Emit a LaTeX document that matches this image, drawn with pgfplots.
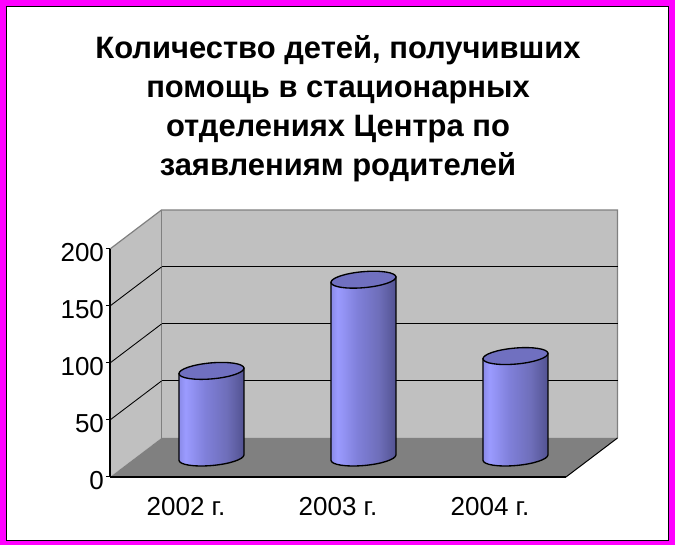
\documentclass[border=0pt]{standalone}
\usepackage{fontspec}
\setmainfont{Liberation Sans}
\usepackage{pgfplots}
\pgfplotsset{compat=1.18}
\definecolor{wall}{RGB}{192,192,192}
\definecolor{floorc}{RGB}{128,128,128}
\definecolor{topc}{RGB}{112,112,192}
\definecolor{frameM}{RGB}{255,0,255}
\definecolor{c0}{RGB}{138,138,232}
\definecolor{c1}{RGB}{155,155,255}
\definecolor{c2}{RGB}{128,128,218}
\definecolor{c3}{RGB}{110,110,185}
\definecolor{c4}{RGB}{82,82,145}
\pgfdeclarehorizontalshading{cylshade}{100bp}{color(0bp)=(c0); color(25bp)=(c0); color(30bp)=(c1); color(45bp)=(c2); color(62bp)=(c3); color(75bp)=(c4); color(100bp)=(c4)}
\pgfdeclareplotmark{cyl}{%
  \pgfmathsetmacro\cylh{\rawy*1.14*0.75}%
  \pgfsetlinewidth{1pt}\pgfsetstrokecolor{black}%
  \def\bodypath{%
    \pgfpathmoveto{\pgfpoint{-24.37pt}{-\cylh pt-2.0pt}}%
    \pgfpatharcaxes{178.8}{358.8}{\pgfpoint{24.36pt}{2.13pt}}{\pgfpoint{-0.52pt}{5.98pt}}%
    \pgfpathlineto{\pgfpoint{24.37pt}{2.0pt}}%
    \pgfpathlineto{\pgfpoint{-24.37pt}{-2.0pt}}%
    \pgfpathclose}%
  \begin{pgfscope}\bodypath\pgfshadepath{cylshade}{0}\pgfusepath{discard}\end{pgfscope}%
  \bodypath\pgfusepath{stroke}%
  \pgfsetfillcolor{topc}%
  \pgfpathellipse{\pgfpointorigin}{\pgfpoint{24.36pt}{2.13pt}}{\pgfpoint{-0.52pt}{5.98pt}}%
  \pgfusepath{fill,stroke}%
}
\pgfplotstableread{
x y
0.5 76
1.5 156
2.5 89
}\cyldata
\begin{document}
\begin{tikzpicture}[x=0.75pt,y=0.75pt]
% frame
\fill[frameM] (0,0) rectangle (675,545);
\fill[white,draw=black,line width=1pt] (6.5,4.5) rectangle (668.5,538.5);
% walls
\fill[wall] (161.5,107) rectangle (617.5,335);
\fill[wall] (110,68) -- (161.5,107) -- (161.5,335) -- (110,296) -- cycle;
\fill[floorc] (110,68) -- (161.5,107) -- (617.5,107) -- (566,68) -- cycle;
\draw[floorc,line width=0.9pt] (110,296) -- (161.5,335) -- (617.5,335) -- (617.5,107);
\draw[floorc,line width=0.9pt] (161.5,335) -- (161.5,107);
\draw[black,line width=0.75pt] (566,68) -- (617.5,107);
% grid
\foreach \yy in {50,100,150} {
  \draw[black,line width=0.65pt] (110,68+\yy*1.14) -- (161.5,107+\yy*1.14);
  \draw[black,line width=0.75pt] (161.5,107+\yy*1.14) -- (617.5,107+\yy*1.14);
}
\begin{axis}[
  at={(82.5pt,51pt)}, anchor=origin, scale only axis,
  width=342pt, height=171pt,
  xmin=0, xmax=3, ymin=0, ymax=200,
  clip=false,
  axis x line*=bottom, axis y line*=left,
  axis line style={black,line width=0.8pt,-},
  xtick={0.5,1.5,2.5},
  xticklabels={2002 г.,2003 г.,2004 г.},
  minor xtick={0,1,2,3},
  ytick={0,50,100,150,200},
  major tick length=3pt,
  minor tick length=3pt,
  tick align=outside,
  tick style={black,line width=0.75pt},
  xtick style={draw=none},
  minor x tick style={black,line width=0.75pt},
  /pgf/number format/assume math mode=true,
  tick label style={font=\fontsize{19.5}{22}\selectfont,text=black},
  xticklabel style={yshift=-9pt},
  yticklabel style={yshift=-3pt,xshift=2pt},
]
\end{axis}
\begin{axis}[
  at={(101.6pt,65.6pt)}, anchor=origin, scale only axis,
  width=342pt, height=171pt,
  xmin=0, xmax=3, ymin=0, ymax=200,
  clip=false, axis lines=none,
]
\addplot[scatter, only marks, scatter src=y, mark=cyl,
  visualization depends on={y \as \rawy}] table[x=x,y=y] {\cyldata};
\end{axis}
% title
\node[align=center,font=\fontsize{23.2}{29.2}\bfseries\selectfont,anchor=center] at (338,436.5)
 {Количество детей, получивших\\помощь в стационарных\\отделениях Центра по\\заявлениям родителей};
\end{tikzpicture}
\end{document}
